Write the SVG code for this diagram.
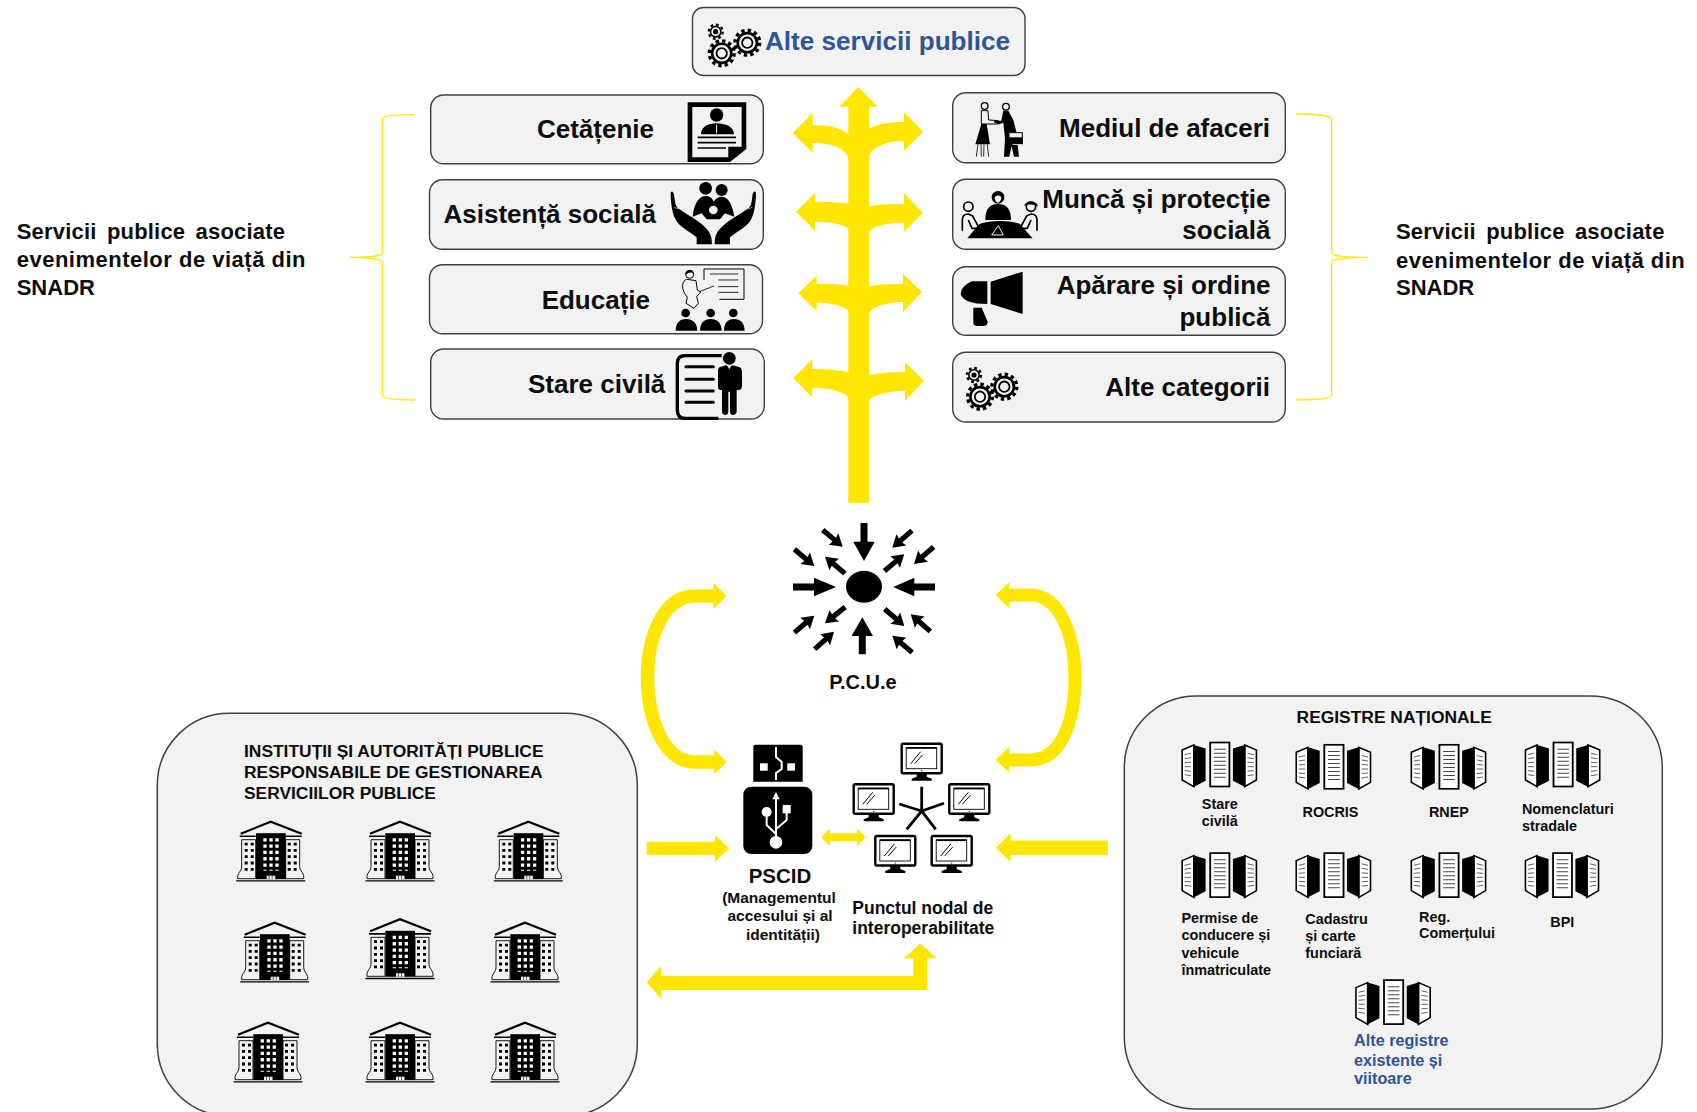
<svg xmlns="http://www.w3.org/2000/svg" width="1697" height="1112" viewBox="0 0 1697 1112">
<style>
text{font-family:"Liberation Sans",Arial,sans-serif;font-weight:700;fill:#0d0d0d}
.box{fill:#f2f2f2;stroke:#404040;stroke-width:1.4}
.panel{fill:#f2f2f2;stroke:#404040;stroke-width:1.5}
.y{fill:#ffe600}
.ys{fill:none;stroke:#ffe600}
.brace{fill:none;stroke:#ffe600;stroke-width:1.3}
.t26{font-size:26px}
.side{font-size:22px}
.l1{letter-spacing:.2px;word-spacing:4px}
.l2{letter-spacing:.5px}
.end{text-anchor:end}
.mid{text-anchor:middle}
.h{font-size:17.4px}
.reg{font-size:14.4px}
.blue{fill:#2f5597}
.k{fill:#000}
.kl{fill:none;stroke:#000}
</style>
<defs>
<g id="gearB"><circle r="12.4" class="kl" stroke-width="3.4" stroke-dasharray="3.4 3.09"/><circle r="9.6" class="kl" stroke-width="2.6"/><circle r="5.2" class="kl" stroke-width="1.8"/></g>
<g id="gearS"><circle r="7" class="kl" stroke-width="2.4" stroke-dasharray="2.75 2.75"/><circle r="5.2" class="kl" stroke-width="1.6"/><circle r="2.6" class="k"/></g>
<polygon id="da" points="0,0 -12,-7.5 -11,-2.6 -26,-2.6 -26,2.6 -11,2.6 -12,7.5"/>
<g id="mon">
<rect x="1" y="1" width="40" height="29.5" rx="1.5" fill="#fff" stroke="#000" stroke-width="2.4"/>
<rect x="5.5" y="5" width="30.5" height="21" fill="none" stroke="#000" stroke-width=".9"/>
<path d="M5.5,5.2H36" stroke="#000" stroke-width="1.8"/>
<path d="M10,21L20,9M14,21L22,12" stroke="#000" stroke-width="1"/>
<circle cx="21" cy="28" r=".6" class="k"/>
<polygon class="k" points="16,31 26,31 26,34 31,36 31,38 11,38 11,36 16,34"/>
</g>
<g id="bld">
<path d="M-30,13L0,1L31,13" class="kl" stroke-width="2.2"/>
<path d="M-31,15.6H-15M15,15.6H31" class="kl" stroke-width="1.6"/>
<path d="M-29,19H-15V58H-33V55C-32,51 -29,50 -29,46Z" fill="#f2f2f2" stroke="#000" stroke-width=".9"/>
<path d="M29,19H15V58H33V55C32,51 29,50 29,46Z" fill="#f2f2f2" stroke="#000" stroke-width=".9"/>
<path d="M-24.5,22V50M-18.5,22V50M18.5,22V50M24.5,22V50" class="kl" stroke-width="3" stroke-dasharray="2.8 3.5"/>
<rect x="-14.7" y="12.5" width="29.7" height="46" class="k"/>
<path d="M-5.7,17.5V50M.3,17.5V50M6.3,17.5V50" fill="none" stroke="#fff" stroke-width="3.3" stroke-dasharray="3.3 3"/>
<path d="M-4,55H4.5V58.5H-4Z" fill="#f2f2f2"/>
<path d="M-1.5,55V58.5M1.5,55V58.5" stroke="#000" stroke-width=".6"/>
<path d="M-34.5,60.2H34.5" stroke="#000" stroke-width="1.3"/>
</g>
<g id="srv">
<path d="M.7,8.3L11.7,3.3V45L.7,38.3Z" fill="#fff" stroke="#000" stroke-width="1.5"/>
<path d="M11,3L22.7,6.7V39L11,45.5Z" class="k"/>
<path d="M3,13L9,11.5M3,17L9,16M3,21L9,20.5M3,25L9,25M3,29L9,29.5M3,33L9,34" stroke="#555" stroke-width=".9"/>
<rect x="27" y=".8" width="18" height="44" fill="#fff" stroke="#000" stroke-width="1.7"/>
<path d="M30.5,7.5H41.5M30.5,11.5H41.5M30.5,15.5H41.5M30.5,19.5H41.5M30.5,23.5H41.5M30.5,27.5H41.5M30.5,31.5H41.5M30.5,35.5H41.5" stroke="#444" stroke-width="1"/>
<path d="M70.3,8.3L59.3,3.3V45L70.3,38.3Z" fill="#fff" stroke="#000" stroke-width="1.5"/>
<path d="M60,3L48.3,6.7V39L60,45.5Z" class="k"/>
<path d="M68,13L62,11.5M68,17L62,16M68,21L62,20.5M68,25L62,25M68,29L62,29.5M68,33L62,34" stroke="#555" stroke-width=".9"/>
</g>
</defs>

<g id="connectors">
<g id="tree" class="y">
<polygon points="858.3,87 839.3,106.7 877.7,106.7"/>
<rect x="848.3" y="106" width="21" height="397"/>
<path d="M792.7,133L812.7,113V125C830,125 842,128 850,136V165C850,150 835,143 812.7,143V152.7Z"/>
<path d="M923.3,131.7L904,112.3V122C888,122 876,124 867,130V162C868,150 882,141 904,141V150.7Z"/>
<path d="M796,211.7L815,193V201.7C830,201.7 840,202 850,204V232C850,226 835,221.7 815,221.7V230.7Z"/>
<path d="M923,212.7L904,193V204C888,204 878,204 867,207V235C869,227 885,222.7 904,222.7V232Z"/>
<path d="M798.3,293.3L816.7,275.7V284C830,284 840,284 850,286V314C850,308 835,302.7 816.7,302.7V311Z"/>
<path d="M922,292L903,274V284C888,284 878,284 867,287V316C869,308 885,302 903,302V312Z"/>
<path d="M793.3,378.3L812.3,359.3V369C830,369 840,370 850,373V402C850,394 835,387.7 812.3,387.7V397.3Z"/>
<path d="M924,381L905,362V372C890,372 878,373 867,376V404C869,396 885,391 905,391V400.7Z"/>
</g>
<path class="brace" d="M415,114.7C400,114.7 382.3,115 382.3,119V253.3C382.3,256 365,257.3 350,257.3C365,257.3 382.3,259 382.3,261.7V395C382.3,399 400,400 415,400"/>
<path class="brace" d="M1296,114C1310,114 1331.7,115 1331.7,119V253.3C1331.7,256 1350,257.3 1367.7,257.3C1350,257.3 1331.7,259 1331.7,261.7V395C1331.7,399 1310,400 1296,400"/>
<g id="loops">
<path class="ys" stroke-width="13.5" d="M714,596H695C662,596 647.5,640 647.5,677C647.5,715 662,762 695,762H715"/>
<polygon class="y" points="726.7,596 713.3,582.7 713.3,609.3"/>
<polygon class="y" points="726.7,762.3 714.3,749.3 714.3,774.3"/>
<path class="ys" stroke-width="13" d="M1009,595H1030C1062,595 1075,640 1075,677C1075,720 1062,760 1030,760H1009"/>
<polygon class="y" points="995.7,595 1009.3,581.7 1009.3,608.3"/>
<polygon class="y" points="995.7,760 1009.3,746.7 1009.3,772.3"/>
</g>
<polygon class="y" points="646.7,841.7 715,841.7 715,835 729.3,848.3 715,861.7 715,855 646.7,855"/>
<polygon class="y" points="1108,840.5 1010.7,840.5 1010.7,833.3 996,847.7 1010.7,862 1010.7,855 1108,855"/>
<polygon class="y" points="646.7,982.3 661,966 661,975.7 913.3,975.7 913.3,958.3 904,958.3 920.3,943.3 936.7,958.3 927.3,958.3 927.3,990 661,990 661,998.7"/>
<polygon class="y" points="821,837.3 830,828.6 830,833.3 857,833.3 857,828.6 866,837.3 857,846 857,841.3 830,841.3 830,846"/>
</g>

<g id="alte-servicii">
<rect class="box" x="692.5" y="7.5" width="332.5" height="68" rx="11"/>
<use href="#gearS" x="715.7" y="31.7"/><use href="#gearB" x="721.7" y="53.3"/><use href="#gearB" x="747.3" y="42.7"/>
<text class="blue" x="765" y="50" font-size="26.1">Alte servicii publice</text>
</g>

<g id="cetatenie">
<rect class="box" x="430.7" y="95" width="332.6" height="68.7" rx="13"/>
<text class="t26 end" x="654" y="138">Cetățenie</text>
<g transform="translate(420 0) scale(.3333)">
<path class="k" fill-rule="evenodd" d="M803,307H979V447L930,486H803ZM817,321V472H925V440H965V321Z"/>
<circle class="k" cx="890" cy="345" r="20"/>
<path class="k" d="M843,403C843,380 865,370 890,370C915,370 942,380 942,403Z"/>
<path d="M890,374V400" stroke="#f2f2f2" stroke-width="3"/>
<path class="kl" stroke-width="5" d="M833,412H948M833,428H948M833,444H918"/>
</g>
</g>

<g id="asistenta">
<rect class="box" x="429.5" y="179.7" width="333.8" height="69.6" rx="13"/>
<text class="t26" x="443.5" y="222.7">Asistență socială</text>
<g transform="translate(420 0) scale(.3333)">
<circle class="k" cx="857" cy="565" r="19"/><circle class="k" cx="905" cy="570" r="18"/>
<path class="k" d="M818,650C822,610 838,588 857,588C870,588 878,596 881,605C886,596 895,590 906,590C925,590 938,615 943,650L915,640L900,658L860,658L845,640Z"/>
<circle cx="880" cy="630" r="13" fill="#f2f2f2"/>
<path id="hL" class="k" d="M752,578C757,570 762,578 763,590C765,605 766,618 775,625C795,640 815,650 845,672C865,690 876,700 876,733H830V712C810,695 775,680 765,655C755,635 752,600 752,578Z"/>
<use href="#hL" transform="translate(1760 0) scale(-1 1)"/>
<path d="M763,622C775,628 785,628 800,625M997,622C985,628 975,628 960,625" fill="none" stroke="#f2f2f2" stroke-width="2"/>
</g>
</g>

<g id="educatie">
<rect class="box" x="429.5" y="264.7" width="333" height="69" rx="13"/>
<text class="t26 end" x="650" y="308.5">Educație</text>
<g transform="translate(660 90) scale(.3333)">
<path class="kl" stroke-width="3" d="M132,570V537H252V628H178"/>
<path class="kl" stroke-width="2.5" d="M150,552H235M175,570H235M175,590H235M175,607H235"/>
<path fill="#f2f2f2" stroke="#000" stroke-width="3" d="M80,568C68,572 62,590 75,612L82,622L78,640L102,655L115,640L110,620L122,606L112,600L108,572Z"/>
<circle cx="89" cy="553" r="12" fill="#f2f2f2" stroke="#000" stroke-width="3"/>
<path class="k" d="M76,556C74,535 102,535 102,553C97,545 85,545 76,556Z"/>
<path class="kl" stroke-width="2.5" d="M118,605L162,588"/>
<circle class="k" cx="77" cy="669" r="13"/><circle class="k" cx="152" cy="669" r="13"/><circle class="k" cx="220" cy="669" r="13"/>
<path class="k" d="M47,722C47,700 58,687 78,687C98,687 112,700 112,722ZM120,722C120,700 132,687 152,687C172,687 185,700 185,722ZM192,722C192,700 203,687 222,687C242,687 254,700 254,722Z"/>
</g>
</g>

<g id="stare-civila">
<rect class="box" x="430.7" y="349" width="333.6" height="70" rx="13"/>
<text class="t26" x="528" y="393.3">Stare civilă</text>
<g transform="translate(660 90) scale(.3333)">
<path class="kl" stroke-width="10" d="M185,797H75Q52,797 52,820V960Q52,985 75,985H175"/>
<path class="kl" stroke-width="9" stroke-linecap="round" d="M78,830H160M78,868H160M78,903H160M78,937H160"/>
<circle class="k" cx="208" cy="805" r="19"/>
<path class="k" d="M178,832L198,826L208,832L218,826L240,832Q246,835 246,845V890Q244,900 236,900H230V965Q228,975 218,975Q212,975 210,965V905H205V965Q203,975 196,975Q188,975 186,965V900H180Q174,898 174,890V845Q174,835 178,832Z"/>
<path d="M203,829L208,838L213,829Z" fill="#f2f2f2"/>
</g>
</g>

<g id="mediul">
<rect class="box" x="952.7" y="92.700" width="332.6" height="70" rx="13"/>
<text class="t26 end" x="1270" y="136.7">Mediul de afaceri</text>
<g transform="translate(840 80) scale(.3333)">
<circle cx="434" cy="78" r="10" fill="#f2f2f2" stroke="#000" stroke-width="4"/>
<path fill="#f2f2f2" stroke="#000" stroke-width="3" d="M424,92H444L446,120L475,122V132L440,132H424Z"/>
<path class="k" d="M424,132H440L450,193H406Z"/>
<path class="kl" stroke-width="2.5" d="M414,193L409,230M423,193L424,230M432,193L431,230M442,193L446,230"/>
<circle cx="498" cy="80" r="10" fill="#f2f2f2" stroke="#000" stroke-width="4"/>
<path class="k" d="M490,92H505L520,120L530,158H518V195H533L537,230H522L515,198L508,230H492L495,175L490,128L478,133L462,127V122L484,122Z"/>
<rect x="507" y="158" width="40" height="33" fill="#f2f2f2" stroke="#000" stroke-width="3"/>
<path class="k" d="M507,172H547V191H507Z"/>
</g>
</g>

<g id="munca">
<rect class="box" x="952.7" y="179.3" width="332.6" height="70" rx="13"/>
<text class="t26 end" x="1270.5" y="207.7">Muncă și protecție</text>
<text class="t26 end" x="1270.5" y="238.7">socială</text>
<g transform="translate(840 80) scale(.3333)">
<circle class="k" cx="474" cy="352" r="19"/>
<path d="M464,352C470,345 480,345 484,352C484,362 478,368 474,368C470,368 464,362 464,352Z" fill="#f2f2f2"/>
<path class="k" d="M436,420C436,385 450,372 474,372C498,372 513,385 513,420Z"/>
<circle cx="385" cy="380" r="14" fill="#f2f2f2" stroke="#000" stroke-width="5"/>
<path class="kl" stroke-width="5" d="M367,452V420C367,408 375,402 385,402L398,408L418,445H396L385,420"/>
<circle cx="573" cy="380" r="14" fill="#f2f2f2" stroke="#000" stroke-width="5"/>
<path class="k" d="M553,378C556,360 592,360 594,380C585,372 565,372 553,378Z"/>
<path class="kl" stroke-width="5" d="M591,452V420C591,408 583,402 573,402L560,408L540,445H562L573,420"/>
<path class="k" d="M382,475L398,455L418,432C450,420 510,420 540,432L560,455L578,475Z"/>
<path d="M455,465L475,437L490,465Z" fill="none" stroke="#f2f2f2" stroke-width="3"/>
</g>
</g>

<g id="aparare">
<rect class="box" x="952.7" y="266.7" width="332.6" height="68.6" rx="13"/>
<text class="t26 end" x="1270.5" y="294">Apărare și ordine</text>
<text class="t26 end" x="1270.5" y="325.7">publică</text>
<g transform="translate(840 80) scale(.3333)">
<path class="k" d="M452,605L548,575V702L452,672Z"/>
<path class="k" d="M442,604H395Q362,620 362,642Q370,672 442,672Z"/>
<path class="k" d="M400,683H425L443,725Q443,738 430,738H410Q400,738 400,725Z"/>
</g>
</g>

<g id="alte-categorii">
<rect class="box" x="952.7" y="352.3" width="332.6" height="69.7" rx="13"/>
<text class="t26 end" x="1270" y="395.7">Alte categorii</text>
<use href="#gearS" x="974" y="375"/><use href="#gearB" x="980" y="396.7"/><use href="#gearB" x="1004.3" y="386.7"/>
</g>

<g id="side-left">
<text class="side l1" x="16.7" y="239">Servicii publice asociate</text>
<text class="side l2" x="16.7" y="267.3">evenimentelor de viață din</text>
<text class="side" x="16.7" y="295">SNADR</text>
</g>
<g id="side-right">
<text class="side l1" x="1396" y="239.3">Servicii publice asociate</text>
<text class="side l2" x="1396" y="267.7">evenimentelor de viață din</text>
<text class="side" x="1396" y="295">SNADR</text>
</g>

<g id="pcue">
<ellipse class="k" cx="864" cy="586.7" rx="18" ry="16"/>
<polygon class="k" points="864,561 853.3,541.7 860.5,541.7 860.5,523 867.5,523 867.5,541.7 874.7,541.7"/>
<polygon class="k" points="836,587 814,577.7 814,583.5 793,583.5 793,590.5 814,590.5 814,596.3"/>
<polygon class="k" points="893.3,587 914.3,577.7 914.3,583.5 935,583.5 935,590.5 914.3,590.5 914.3,596.3"/>
<polygon class="k" points="862.3,617.3 851.6,636 858.8,636 858.8,654.3 865.8,654.3 865.8,636 873,636"/>
<g class="k">
<use href="#da" transform="translate(842.7 546.7) rotate(40)"/>
<use href="#da" transform="translate(814.3 566) rotate(40)"/>
<use href="#da" transform="translate(825 556.7) rotate(-140)"/>
<use href="#da" transform="translate(892.3 547.7) rotate(139)"/>
<use href="#da" transform="translate(914 564) rotate(139)"/>
<use href="#da" transform="translate(904.3 554.3) rotate(-40)"/>
<use href="#da" transform="translate(825 623.3) rotate(141)"/>
<use href="#da" transform="translate(814.3 615.7) rotate(-40)"/>
<use href="#da" transform="translate(834 631.7) rotate(-42)"/>
<use href="#da" transform="translate(904.3 626) rotate(41)"/>
<use href="#da" transform="translate(910.7 614.3) rotate(-139)"/>
<use href="#da" transform="translate(892.3 635.7) rotate(-140)"/>
</g>
<text class="mid" x="863" y="689" font-size="20">P.C.U.e</text>
</g>

<g id="pscid">
<path class="k" d="M755.3,744.7H800.7Q802.7,744.7 802.7,746.7V781.7H753.3V746.7Q753.3,744.7 755.3,744.7Z"/>
<rect x="760" y="763.3" width="7.7" height="7.4" fill="#fff"/><rect x="787.3" y="763.3" width="7.7" height="7.4" fill="#fff"/>
<path d="M776,747V757L781.7,762V769L776,773V780" fill="none" stroke="#fff" stroke-width="2"/>
<rect class="k" x="743.3" y="786.7" width="69" height="67.3" rx="8"/>
<g transform="translate(640 730) scale(.3333)">
<circle cx="408" cy="337" r="19" fill="#fff"/>
<circle cx="380" cy="246" r="15" fill="#fff"/>
<rect x="428" y="225" width="24" height="25" fill="#fff"/>
<polygon points="408,185 397,208 419,208" fill="#fff"/>
<path d="M408,205V335M380,255V285L408,312M440,248V270L408,298" fill="none" stroke="#fff" stroke-width="6"/>
</g>
<text class="mid" x="780" y="883.3" font-size="20.5">PSCID</text>
<text class="mid" x="779" y="902.7" font-size="15.5">(Managementul</text>
<text class="mid" x="780" y="921" font-size="15.5">accesului și al</text>
<text class="mid" x="783" y="940" font-size="15.5">identității)</text>
</g>

<g id="nod">
<use href="#mon" x="900.7" y="742.7"/><use href="#mon" x="852.7" y="783.3"/><use href="#mon" x="948.3" y="783.3"/><use href="#mon" x="874.3" y="835"/><use href="#mon" x="930.7" y="835"/>
<path class="kl" stroke-width="2.8" d="M921.7,811V786.7M921.7,811L899.3,804M921.7,811L944,803.3M921.7,811L906.7,829.3M921.7,811L935.7,829.3"/>
<text x="852.3" y="913.5" font-size="17.5">Punctul nodal de</text>
<text x="852.3" y="933.8" font-size="17.5">interoperabilitate</text>
</g>

<g id="institutii">
<rect class="panel" x="157.3" y="713.3" width="480" height="402.7" rx="72"/>
<text class="h" x="244" y="757.3">INSTITUȚII ȘI AUTORITĂȚI PUBLICE</text>
<text class="h" x="244" y="778.3">RESPONSABILE DE GESTIONAREA</text>
<text class="h" x="244" y="799">SERVICIILOR PUBLICE</text>
<use href="#bld" x="270.7" y="820.7"/><use href="#bld" x="400" y="820.7"/><use href="#bld" x="528.3" y="820.7"/>
<use href="#bld" x="274.7" y="921.7"/><use href="#bld" x="400" y="918.3"/><use href="#bld" x="525" y="921.7"/>
<use href="#bld" x="268" y="1021.7"/><use href="#bld" x="400" y="1021.7"/><use href="#bld" x="525" y="1021.7"/>
</g>

<g id="registre">
<rect class="panel" x="1124.3" y="696" width="538" height="413" rx="72"/>
<text class="h" x="1296.6" y="722.7">REGISTRE NAȚIONALE</text>
<use href="#srv" transform="translate(1181.4 741.7) scale(1.067 1)"/>
<use href="#srv" transform="translate(1295.5 744) scale(1.067 1)"/>
<use href="#srv" transform="translate(1410.6 744) scale(1.067 1)"/>
<use href="#srv" transform="translate(1524.7 741.7) scale(1.067 1)"/>
<use href="#srv" transform="translate(1181.4 852.3) scale(1.067 1)"/>
<use href="#srv" transform="translate(1295.5 852.3) scale(1.067 1)"/>
<use href="#srv" transform="translate(1410.6 852.3) scale(1.067 1)"/>
<use href="#srv" transform="translate(1524.7 852.3) scale(1.05 1)"/>
<use href="#srv" transform="translate(1355.2 979.3) scale(1.067 1)"/>
<g class="reg">
<text x="1201.8" y="809">Stare</text><text x="1201.8" y="826">civilă</text>
<text x="1302.5" y="817">ROCRIS</text>
<text x="1428.9" y="817">RNEP</text>
<text x="1521.9" y="814">Nomenclaturi</text><text x="1521.9" y="831">stradale</text>
<text x="1181.4" y="923">Permise de</text><text x="1181.4" y="940">conducere și</text><text x="1181.4" y="958">vehicule</text><text x="1181.4" y="975">înmatriculate</text>
<text x="1305.3" y="924">Cadastru</text><text x="1305.3" y="941">și carte</text><text x="1305.3" y="958">funciară</text>
<text x="1419" y="921.7">Reg.</text><text x="1419" y="938.3">Comerțului</text>
<text x="1550.3" y="926.7">BPI</text>
</g>
<g font-size="16.2">
<text class="blue" x="1354.1" y="1046">Alte registre</text><text class="blue" x="1354.1" y="1066">existente și</text><text class="blue" x="1354.1" y="1084.3">viitoare</text>
</g>
</g>
</svg>
